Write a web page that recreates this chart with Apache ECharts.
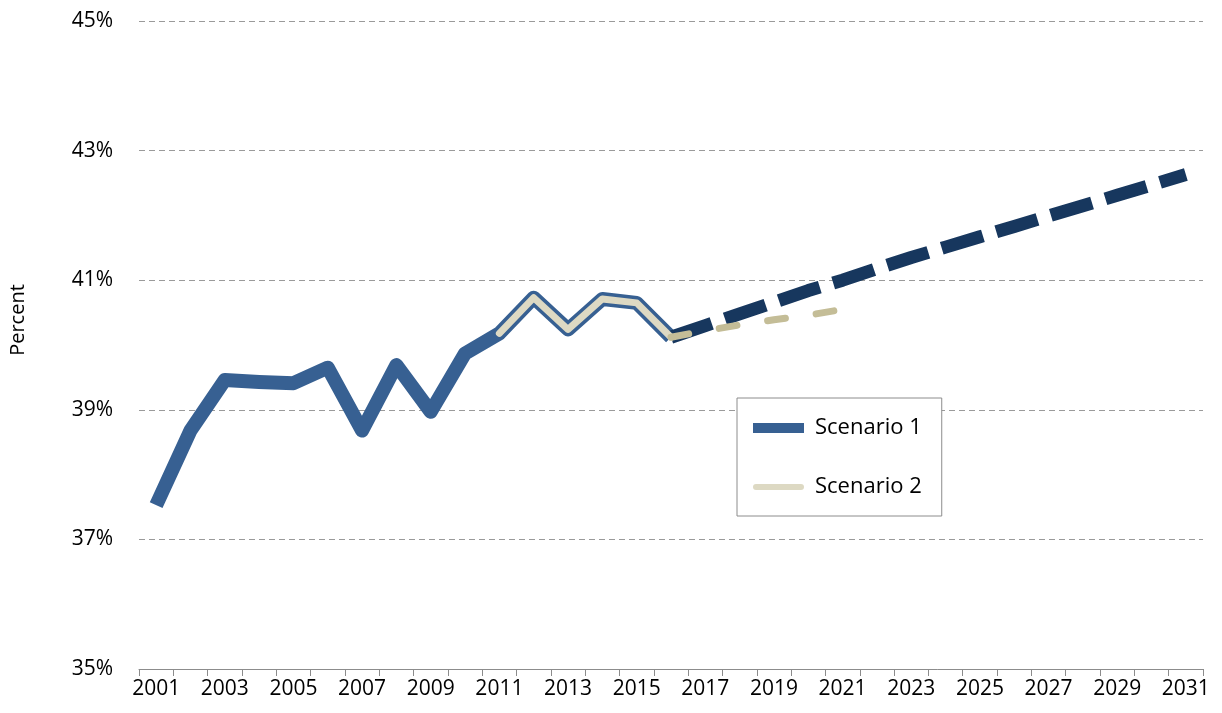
<!DOCTYPE html>
<html>
<head>
<meta charset="utf-8">
<script src="https://cdn.jsdelivr.net/npm/echarts@6/dist/echarts.min.js"></script>
<style>
html,body{margin:0;padding:0;background:#fff;}
#chart{width:1222px;height:713px;}
</style>
</head>
<body>
<div id="chart"></div>
<script>
const years = ['2001','2002','2003','2004','2005','2006','2007','2008','2009','2010',
  '2011','2012','2013','2014','2015','2016','2017','2018','2019','2020',
  '2021','2022','2023','2024','2025','2026','2027','2028','2029','2030','2031'];
const yTicks = [35, 37, 39, 41, 43, 45];

// Scenario 1 history, 2001-2016
const scenario1History = [37.53, 38.68, 39.46, 39.43, 39.41, 39.65, 38.68, 39.69, 38.97, 39.87,
  40.18, 40.73, 40.24, 40.71, 40.65, 40.12];
// Scenario 1 projection, 2016-2031
const scenario1Projection = [40.12, 40.30, 40.48, 40.66, 40.84, 41.00, 41.18, 41.35, 41.51, 41.67,
  41.83, 41.99, 42.15, 42.31, 42.47, 42.63];
// Scenario 2 history, 2011-2016
const scenario2History = [40.18, 40.73, 40.24, 40.71, 40.65, 40.12];
// Scenario 2 projection, 2016-2021
const scenario2Projection = [40.12, 40.22, 40.31, 40.39, 40.46, 40.55];

function place(values, startYear) {
  const start = years.indexOf(startYear);
  return years.map((y, i) => (i >= start && i - start < values.length) ? values[i - start] : null);
}

const FONT = '"Open Sans", "Noto Sans", sans-serif';
const chart = echarts.init(document.getElementById('chart'), null, {renderer: 'canvas'});
chart.setOption({
  animation: false,
  backgroundColor: '#ffffff',
  grid: {left: 139, right: 19, top: 21, bottom: 44, containLabel: false},
  xAxis: {
    type: 'category',
    data: years,
    boundaryGap: true,
    axisLine: {show: true, lineStyle: {color: '#8c8c8c', width: 1}},
    axisTick: {show: true, interval: 0, length: 7, lineStyle: {color: '#8c8c8c'}},
    axisLabel: {interval: 1, color: '#000', fontSize: 21, fontFamily: FONT, margin: 10},
    splitLine: {show: false}
  },
  yAxis: {
    type: 'value',
    min: yTicks[0],
    max: yTicks[yTicks.length - 1],
    interval: 2,
    axisLine: {show: false},
    axisTick: {show: false},
    axisLabel: {color: '#000', fontSize: 21, fontFamily: FONT, margin: 26, formatter: '{value}%'},
    splitLine: {show: true, lineStyle: {color: '#9a9a9a', width: 1, type: [6, 4]}}
  },
  legend: {
    orient: 'vertical',
    left: 737,
    top: 398,
    backgroundColor: '#fff',
    borderColor: '#8c8c8c',
    borderWidth: 1,
    borderRadius: 0,
    padding: [19, 20, 18, 16],
    itemGap: 37,
    itemWidth: 51,
    itemHeight: 10,
    symbolKeepAspect: false,
    textStyle: {color: '#000', fontSize: 22, fontFamily: FONT, padding: [0, 0, 0, 6]},
    data: [
      {name: 'Scenario 1', icon: 'rect', itemStyle: {color: '#376092', borderWidth: 0}},
      {name: 'Scenario 2', icon: 'path://M0,0M0,10M3,2L48,2A3,3,0,0,1,48,8L3,8A3,3,0,0,1,3,2Z', itemStyle: {color: '#DDD9C3', borderWidth: 0}}
    ],
    selectedMode: false
  },
  graphic: [{
    type: 'text',
    rotation: Math.PI / 2,
    style: {text: 'Percent', fill: '#000', font: '20px ' + FONT, textAlign: 'center', textVerticalAlign: 'middle'},
    x: 18, y: 320
  }],
  series: [
    {
      name: 'Scenario 1', type: 'line', data: place(scenario1History, '2001'),
      showSymbol: false, symbol: 'none', z: 2, color: '#376092',
      lineStyle: {color: '#376092', width: 14, cap: 'butt', join: 'round'}
    },
    {
      name: 'Scenario 1', type: 'line', data: place(scenario1Projection, '2016'),
      showSymbol: false, symbol: 'none', z: 3, color: '#17375E',
      lineStyle: {color: '#17375E', width: 13, type: [43, 14], cap: 'butt'}
    },
    {
      name: 'Scenario 2', type: 'line', data: place(scenario2History, '2011'),
      showSymbol: false, symbol: 'none', z: 4, color: '#DDD9C3',
      lineStyle: {color: '#DDD9C3', width: 7, cap: 'round', join: 'round'}
    },
    {
      name: 'Scenario 2', type: 'line', data: place(scenario2Projection, '2016'),
      showSymbol: false, symbol: 'none', z: 5, color: '#C4BD97',
      lineStyle: {color: '#C4BD97', width: 7, type: [18, 31], cap: 'round'}
    }
  ]
});
</script>
</body>
</html>
